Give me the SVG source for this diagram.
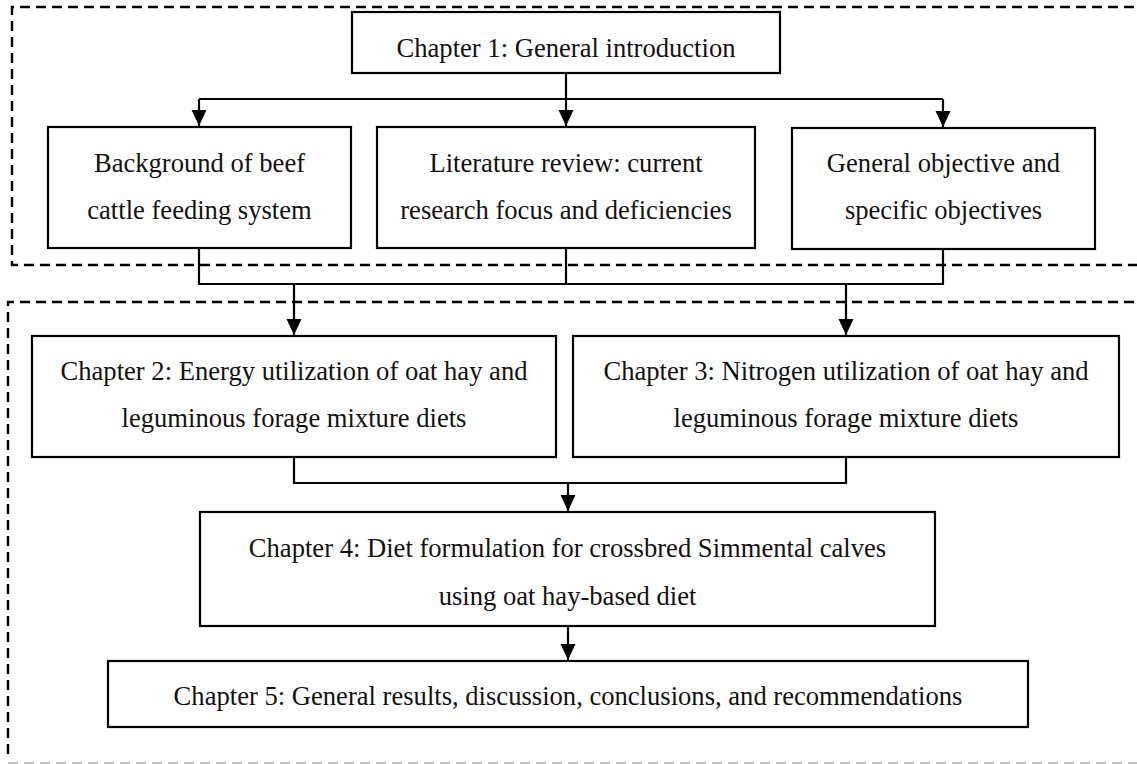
<svg xmlns="http://www.w3.org/2000/svg" width="1137" height="764" viewBox="0 0 1137 764">
  <defs>
    <style>
      .box { fill: #fff; stroke: #000; stroke-width: 2.2; }
      .lbl { font-family: "Liberation Serif", "Times New Roman", serif; font-size: 26.6px; fill: #111; text-anchor: middle; }
      .dash { fill: none; stroke: #000; stroke-width: 2.4; stroke-dasharray: 10 6; }
      .conn { fill: none; stroke: #000; stroke-width: 2.2; }
    </style>
    <marker id="ah" markerUnits="userSpaceOnUse" markerWidth="16" markerHeight="16" viewBox="0 0 16 15" refX="16" refY="7.5" orient="auto">
      <path d="M0,0 L16,7.5 L0,15 Z" fill="#000"/>
    </marker>
  </defs>
  <rect width="1137" height="764" fill="#fff"/>

  <g id="groups">
    <path class="dash" d="M1150,7 H12 V265 H1150"/>
    <path class="dash" d="M1150,302 H8 V760"/>
    <path d="M8,763 H1150" fill="none" stroke="#aaa" stroke-width="1.5" stroke-dasharray="10 6"/>
  </g>

  <g id="connectors">
    <path class="conn" d="M566,73 V126" marker-end="url(#ah)"/>
    <path class="conn" d="M199,99 H943"/>
    <path class="conn" d="M199,99 V126" marker-end="url(#ah)"/>
    <path class="conn" d="M943,99 V127" marker-end="url(#ah)"/>
    <path class="conn" d="M199,248 V284 M566,248 V284 M943,249 V284 M198,284 H944"/>
    <path class="conn" d="M294,284 V335" marker-end="url(#ah)"/>
    <path class="conn" d="M846,284 V335" marker-end="url(#ah)"/>
    <path class="conn" d="M294,457 V483 H846 V457"/>
    <path class="conn" d="M568,483 V511" marker-end="url(#ah)"/>
    <path class="conn" d="M568,626 V660" marker-end="url(#ah)"/>
  </g>

  <g id="ch1">
    <rect class="box" x="352" y="12" width="428" height="61"/>
    <text class="lbl" x="566" y="57">Chapter 1: General introduction</text>
  </g>
  <g id="background">
    <rect class="box" x="48" y="127" width="303" height="121"/>
    <text class="lbl" x="199.5" y="172">Background of beef</text>
    <text class="lbl" x="199.5" y="219">cattle feeding system</text>
  </g>
  <g id="literature">
    <rect class="box" x="377" y="127" width="378" height="121"/>
    <text class="lbl" x="566" y="172">Literature review: current</text>
    <text class="lbl" x="566" y="219">research focus and deficiencies</text>
  </g>
  <g id="objectives">
    <rect class="box" x="792" y="128" width="303" height="121"/>
    <text class="lbl" x="943.5" y="172">General objective and</text>
    <text class="lbl" x="943.5" y="219">specific objectives</text>
  </g>
  <g id="ch2">
    <rect class="box" x="32" y="336" width="524" height="121"/>
    <text class="lbl" x="294" y="380">Chapter 2: Energy utilization of oat hay and</text>
    <text class="lbl" x="294" y="427">leguminous forage mixture diets</text>
  </g>
  <g id="ch3">
    <rect class="box" x="573" y="336" width="546" height="121"/>
    <text class="lbl" x="846" y="380">Chapter 3: Nitrogen utilization of oat hay and</text>
    <text class="lbl" x="846" y="427">leguminous forage mixture diets</text>
  </g>
  <g id="ch4">
    <rect class="box" x="200" y="512" width="735" height="114"/>
    <text class="lbl" x="567.5" y="557">Chapter 4: Diet formulation for crossbred Simmental calves</text>
    <text class="lbl" x="567.5" y="605">using oat hay-based diet</text>
  </g>
  <g id="ch5">
    <rect class="box" x="108" y="661" width="920" height="66"/>
    <text class="lbl" x="568" y="705">Chapter 5: General results, discussion, conclusions, and recommendations</text>
  </g>
</svg>
